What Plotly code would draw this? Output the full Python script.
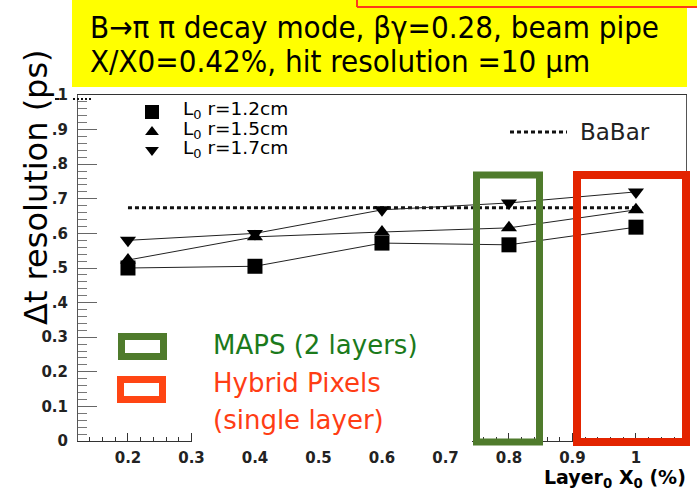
import plotly.graph_objects as go

# Layer-0 material budget (% X0) and the simulated Δt resolution (ps)
layer0_x0 = [0.2, 0.4, 0.6, 0.8, 1.0]
res_r12 = [0.50, 0.505, 0.572, 0.567, 0.618]   # L0 at r = 1.2 cm
res_r15 = [0.523, 0.59, 0.604, 0.616, 0.668]   # L0 at r = 1.5 cm
res_r17 = [0.58, 0.60, 0.668, 0.688, 0.72]     # L0 at r = 1.7 cm
babar_x = [0.2, 1.0]
babar_res = [0.674, 0.674]

y_ticks = [0, 0.1, 0.2, 0.3, 0.4, 0.5, 0.6, 0.7, 0.8, 0.9, 1.0]
y_ticktext = ["0", "0.1", "0.2", "0.3", ".4", ".5", ".6", ".7", ".8", ".9", "1"]
x_ticks = [0.2, 0.3, 0.4, 0.5, 0.6, 0.7, 0.8, 0.9, 1.0]
x_ticktext = ["0.2", "0.3", "0.4", "0.5", "0.6", "0.7", "0.8", "0.9", "1"]

series = [
    ("L<sub>0</sub> r=1.2cm", res_r12, "square", 15),
    ("L<sub>0</sub> r=1.5cm", res_r15, "triangle-up", 14),
    ("L<sub>0</sub> r=1.7cm", res_r17, "triangle-down", 14),
]

W, H = 697, 494
L, R, T, B = 78, 11, 95, 53
PW, PH = W - L - R, H - T - B


def px(x):
    return (x - L) / PW


def py(y):
    return (H - B - y) / PH


fig = go.Figure()

# BaBar reference resolution
fig.add_trace(go.Scatter(
    x=babar_x, y=babar_res, mode="lines",
    line=dict(color="#111111", width=3, dash="4px,3px"),
    showlegend=False, hoverinfo="skip"))

for name, vals, sym, size in series:
    fig.add_trace(go.Scatter(
        x=layer0_x0, y=vals, mode="lines+markers", name=name,
        line=dict(color="#222222", width=1),
        marker=dict(symbol=sym, size=size, color="black"),
        showlegend=False))

# hand-drawn key (marker glyphs on a pixel overlay axis)
key_y = [112, 132, 150]
for (name, vals, sym, size), ky in zip(series, key_y):
    fig.add_trace(go.Scatter(
        x=[152], y=[ky], xaxis="x2", yaxis="y2", mode="markers",
        marker=dict(symbol=sym, size=14 if sym == "square" else 12, color="black"),
        showlegend=False, hoverinfo="skip"))

annotations = []
for (name, vals, sym, size), ky in zip(series, [110, 130, 149]):
    annotations.append(dict(
        x=px(181), y=py(ky), xref="paper", yref="paper", text=name,
        showarrow=False, xanchor="left", yanchor="middle",
        font=dict(family="DejaVu Sans", size=18.5, color="black")))

annotations += [
    dict(x=px(578), y=py(132), xref="paper", yref="paper", text="BaBar",
         showarrow=False, xanchor="left", yanchor="middle",
         font=dict(family="DejaVu Sans", size=23, color="#222222")),
    dict(x=px(88), y=py(27), xref="paper", yref="paper",
         text="B→π π decay mode, βγ=0.28, beam pipe",
         showarrow=False, xanchor="left", yanchor="middle",
         font=dict(family="DejaVu Sans Condensed", size=31, color="black")),
    dict(x=px(88), y=py(61), xref="paper", yref="paper",
         text="X/X0=0.42%, hit resolution =10 μm",
         showarrow=False, xanchor="left", yanchor="middle",
         font=dict(family="DejaVu Sans Condensed", size=31, color="black")),
    dict(x=px(36), y=py(187), xref="paper", yref="paper",
         text="Δt resolution (ps)", textangle=-90,
         showarrow=False, xanchor="center", yanchor="middle",
         font=dict(family="DejaVu Sans", size=32, color="black")),
    dict(x=px(211), y=py(345), xref="paper", yref="paper",
         text="MAPS (2 layers)", showarrow=False, xanchor="left", yanchor="middle",
         font=dict(family="DejaVu Sans", size=26, color="#1b7a1b")),
    dict(x=px(211), y=py(383), xref="paper", yref="paper",
         text="Hybrid Pixels", showarrow=False, xanchor="left", yanchor="middle",
         font=dict(family="DejaVu Sans", size=26, color="#ff3d14")),
    dict(x=px(211), y=py(420), xref="paper", yref="paper",
         text="(single layer)", showarrow=False, xanchor="left", yanchor="middle",
         font=dict(family="DejaVu Sans", size=26, color="#ff3d14")),
    dict(x=px(688), y=py(479), xref="paper", yref="paper",
         text="<b>Layer<sub>0</sub> X<sub>0</sub> (%)</b>",
         showarrow=False, xanchor="right", yanchor="middle",
         font=dict(family="DejaVu Sans", size=19, color="black")),
]


def rect(x0, y0, x1, y1, **kw):
    return dict(type="rect", xref="paper", yref="paper",
                x0=px(x0), x1=px(x1), y0=py(y0), y1=py(y1), **kw)


def hline(x0, x1, y, **kw):
    return dict(type="line", xref="paper", yref="paper",
                x0=px(x0), x1=px(x1), y0=py(y), y1=py(y), **kw)


shapes = [
    # yellow caption panel and the edge of the panel above it
    rect(72, 0, 687, 87, fillcolor="#ffff00", line=dict(width=0), layer="below"),
    rect(687, 0, 697, 7, fillcolor="#ffff00", line=dict(width=0), layer="below"),
    hline(357, 697, 7, line=dict(color="#ff3a1a", width=2)),
    dict(type="line", xref="paper", yref="paper", x0=px(357), x1=px(357),
         y0=py(0), y1=py(7), line=dict(color="#ff3a1a", width=2)),
    # white patch where the key panel sits over the x axis
    rect(192, 430, 472, 447, fillcolor="white", line=dict(width=0), layer="above"),
    # BaBar key line and the dotted mark at the top of the y axis
    hline(510, 567, 132, line=dict(color="#111111", width=3, dash="4px,3px")),
    hline(73, 93, 99, line=dict(color="#111111", width=2, dash="2px,2px")),
    hline(55, 59, 99, line=dict(color="#111111", width=2)),
    # technology highlight boxes
    rect(476.5, 175, 539.5, 442, line=dict(color="#4f7b2c", width=7), layer="above"),
    rect(577, 175, 686, 442, line=dict(color="#e32400", width=8), layer="above"),
    rect(121.5, 336.5, 163.5, 356.5, line=dict(color="#4f7b2c", width=7)),
    rect(120.5, 379.5, 162.5, 399.5, line=dict(color="#ff4513", width=7)),
]

fig.update_layout(
    width=W, height=H,
    margin=dict(l=L, r=R, t=T, b=B),
    paper_bgcolor="white", plot_bgcolor="white",
    showlegend=False,
    annotations=annotations, shapes=shapes,
    xaxis=dict(
        range=[0.1213, 1.0788], tickvals=x_ticks, ticktext=x_ticktext,
        ticks="inside", ticklen=8, tickcolor="#333333", tickwidth=1,
        minor=dict(dtick=0.02, tick0=0, ticks="inside", ticklen=4, tickcolor="#333333"),
        showgrid=False, zeroline=False, showline=True, linecolor="#333333",
        linewidth=1, mirror=True, ticklabelstandoff=3,
        tickfont=dict(family="DejaVu Sans", size=15, color="#222222", weight="bold"),
    ),
    yaxis=dict(
        range=[0, 1.0], tickvals=y_ticks, ticktext=y_ticktext,
        ticks="inside", ticklen=19, tickcolor="#666666", tickwidth=1,
        minor=dict(dtick=0.02, tick0=0, ticks="inside", ticklen=9, tickcolor="#777777"),
        showgrid=False, zeroline=False, showline=True, linecolor="#555555",
        linewidth=1, mirror=True, ticklabelstandoff=6,
        tickfont=dict(family="DejaVu Sans", size=15, color="#222222", weight="bold"),
    ),
    xaxis2=dict(overlaying="x", range=[L, W - R], visible=False),
    yaxis2=dict(overlaying="y", range=[H - B, T], visible=False),
)

fig.write_html("out.html")
